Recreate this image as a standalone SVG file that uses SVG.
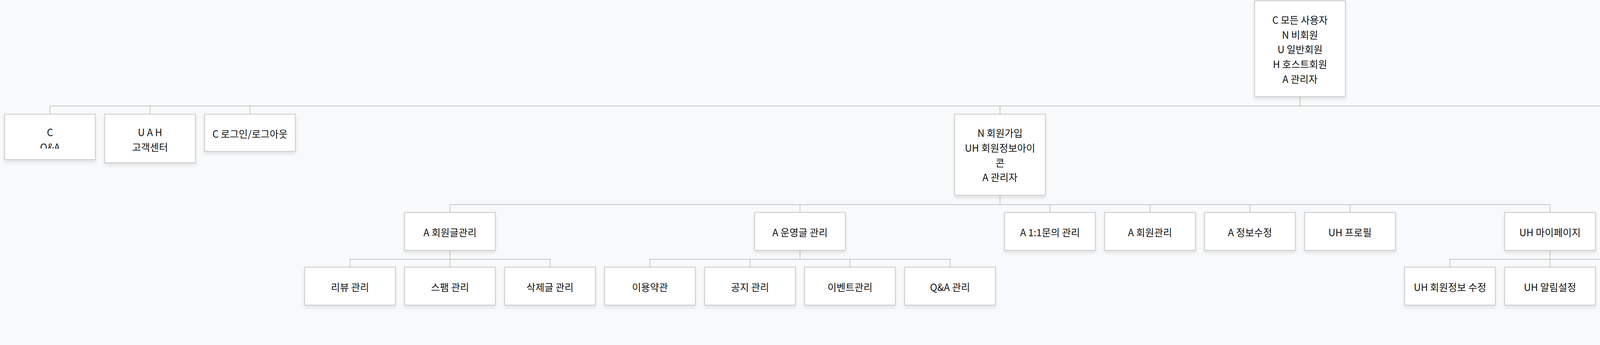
<svg xmlns="http://www.w3.org/2000/svg" width="6666" height="882" viewBox="0 0 6666 882">
<style>
.bg{fill:#f8f9fa}
.node rect{fill:#ffffff;stroke:#cbcbcb;stroke-width:2;filter:url(#sh)}
.node text{font-family:"Noto Sans CJK KR","Noto Sans",sans-serif;font-size:25px;fill:#111111;text-anchor:middle}
.conn path{fill:none;stroke:#c6c6c6;stroke-width:2}
</style>
<defs>
<filter id="sh" x="-10%" y="-20%" width="120%" height="150%">
<feDropShadow dx="0" dy="5" stdDeviation="5" flood-color="#000000" flood-opacity="0.10"/>
</filter>
<clipPath id="clipqa"><rect x="12" y="292" width="232" height="87.5"/></clipPath>
</defs>
<rect class="bg" x="0" y="0" width="6666" height="882"/>

<g id="connectors" class="conn">
<path d="M3328 248 V271"/>
<path d="M128 291 V271 H6528 V291"/>
<path d="M384 271 V291 M640 271 V291 M2560 271 V291 M4480 271 V291 M4736 271 V291 M5248 271 V291 M5760 271 V291 M6144 271 V291"/>
<path d="M2560 500 V523"/>
<path d="M1152 542 V523 H3968 V542"/>
<path d="M2048 523 V542 M2688 523 V542 M2944 523 V542 M3200 523 V542 M3456 523 V542"/>
<path d="M1152 641 V663"/>
<path d="M896 682 V663 H1408 V682 M1152 663 V682"/>
<path d="M2048 641 V663"/>
<path d="M1664 682 V663 H2432 V682 M1920 663 V682 M2176 663 V682"/>
<path d="M3968 641 V663"/>
<path d="M3712 682 V663 H4224 V682 M3968 663 V682"/>
<path d="M5248 423 V445"/>
<path d="M4992 464 V445 H5376 V464"/>
<path d="M5376 563 V585"/>
<path d="M5248 605 V585 H5504 V605"/>
<path d="M6144 389 V411"/>
<path d="M6016 430 V411 H6272 V430"/>
</g>

<g id="n-root" class="node"><rect x="3212" y="2" width="232" height="245"/>
<text x="3328" y="60.7">C 모든 사용자</text><text x="3328" y="98.5">N 비회원</text><text x="3328" y="136.3">U 일반회원</text><text x="3328" y="174.1">H 호스트회원</text><text x="3328" y="211.9">A 관리자</text></g>

<g id="n-qa" class="node"><rect x="12" y="292" width="232" height="116"/>
<g clip-path="url(#clipqa)"><text x="128" y="348">C</text><text x="128" y="386">Q&amp;A</text></g></g>
<g id="n-cs" class="node"><rect x="268" y="292" width="232" height="124"/>
<text x="384" y="348">U A H</text><text x="384" y="386">고객센터</text></g>
<g id="n-login" class="node"><rect x="524" y="292" width="232" height="95"/>
<text x="640" y="352">C 로그인/로그아웃</text></g>
<g id="n-join" class="node"><rect x="2444" y="292" width="232" height="207"/>
<text x="2560" y="350">N 회원가입</text><text x="2560" y="387.8">UH 회원정보아이</text><text x="2560" y="425.6">콘</text><text x="2560" y="463.4">A 관리자</text></g>
<g id="n-wish" class="node"><rect x="4364" y="292" width="232" height="130"/>
<text x="4480" y="348">U H A</text><text x="4480" y="386">위시리스트</text></g>
<g id="n-resv" class="node"><rect x="4620" y="292" width="232" height="130"/>
<text x="4736" y="348">U H A</text><text x="4736" y="386">예약확인</text></g>
<g id="n-host" class="node"><rect x="5132" y="292" width="232" height="130"/>
<text x="5248" y="348">U H A</text><text x="5248" y="386">호스트</text></g>
<g id="n-msg" class="node"><rect x="5644" y="292" width="232" height="130"/>
<text x="5760" y="348">U H A</text><text x="5760" y="386">쪽지</text></g>
<g id="n-notice" class="node"><rect x="6028" y="292" width="232" height="96"/>
<text x="6144" y="352">C 공지사항</text></g>
<g id="n-region" class="node"><rect x="6412" y="292" width="232" height="95"/>
<text x="6528" y="352">C 지역별 숙소찾기</text></g>

<g id="n-a-post" class="node"><rect x="1036" y="543" width="232" height="97"/><text x="1152" y="604">A 회원글관리</text></g>
<g id="n-a-ops" class="node"><rect x="1932" y="543" width="232" height="97"/><text x="2048" y="604">A 운영글 관리</text></g>
<g id="n-a-qna" class="node"><rect x="2572" y="543" width="232" height="97"/><text x="2688" y="604">A 1:1문의 관리</text></g>
<g id="n-a-member" class="node"><rect x="2828" y="543" width="232" height="97"/><text x="2944" y="604">A 회원관리</text></g>
<g id="n-a-info" class="node"><rect x="3084" y="543" width="232" height="97"/><text x="3200" y="604">A 정보수정</text></g>
<g id="n-uh-profile" class="node"><rect x="3340" y="543" width="232" height="97"/><text x="3456" y="604">UH 프로필</text></g>
<g id="n-uh-mypage" class="node"><rect x="3852" y="543" width="232" height="97"/><text x="3968" y="604">UH 마이페이지</text></g>

<g id="n-review" class="node"><rect x="780" y="683" width="232" height="97"/><text x="896" y="744">리뷰 관리</text></g>
<g id="n-spam" class="node"><rect x="1036" y="683" width="232" height="97"/><text x="1152" y="744">스팸 관리</text></g>
<g id="n-deleted" class="node"><rect x="1292" y="683" width="232" height="97"/><text x="1408" y="744">삭제글 관리</text></g>
<g id="n-terms" class="node"><rect x="1548" y="683" width="232" height="97"/><text x="1664" y="744">이용약관</text></g>
<g id="n-notice-mgmt" class="node"><rect x="1804" y="683" width="232" height="97"/><text x="1920" y="744">공지 관리</text></g>
<g id="n-event-mgmt" class="node"><rect x="2060" y="683" width="232" height="97"/><text x="2176" y="744">이벤트관리</text></g>
<g id="n-qa-mgmt" class="node"><rect x="2316" y="683" width="232" height="97"/><text x="2432" y="744">Q&amp;A 관리</text></g>
<g id="n-uh-edit" class="node"><rect x="3596" y="683" width="232" height="97"/><text x="3712" y="744">UH 회원정보 수정</text></g>
<g id="n-uh-alarm" class="node"><rect x="3852" y="683" width="232" height="97"/><text x="3968" y="744">UH 알림설정</text></g>
<g id="n-uh-pay" class="node"><rect x="4108" y="683" width="232" height="97"/><text x="4224" y="744">UH 결제</text></g>

<g id="n-stay-reg" class="node"><rect x="4876" y="465" width="232" height="131"/>
<text x="4992" y="521.5">U H A</text><text x="4992" y="559.5">숙소등록</text></g>
<g id="n-ha-board" class="node"><rect x="5260" y="465" width="232" height="97"/><text x="5376" y="526">HA 알림판</text></g>
<g id="n-ha-edit" class="node"><rect x="5132" y="606" width="232" height="96"/><text x="5248" y="666">HA 숙소정보 수정</text></g>
<g id="n-ha-stat" class="node"><rect x="5388" y="606" width="232" height="96"/><text x="5504" y="666">HA 통계</text></g>

<g id="n-notice-item" class="node"><rect x="5900" y="431" width="232" height="97"/><text x="6016" y="492">공지</text></g>
<g id="n-event-item" class="node"><rect x="6156" y="431" width="232" height="97"/><text x="6272" y="492">이벤트</text></g>
</svg>
